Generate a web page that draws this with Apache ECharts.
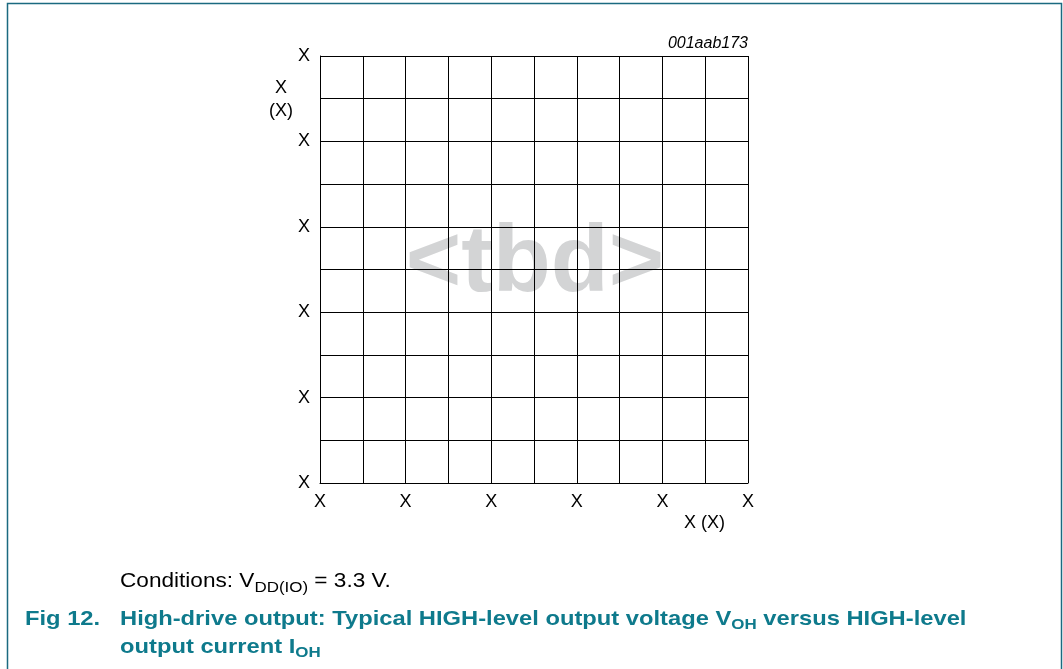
<!DOCTYPE html>
<html>
<head>
<meta charset="utf-8">
<script src="https://cdn.jsdelivr.net/npm/echarts@6/dist/echarts.min.js"></script>
<style>
  html, body { margin: 0; padding: 0; background: #fff; }
  #chart { width: 1063px; height: 669px; }
</style>
</head>
<body>
<div id="chart"></div>
<script>
// placeholder graph: no curve yet, only the grid
const xTicks = [0, 1, 2, 3, 4, 5, 6, 7, 8, 9, 10]
const yTicks = [0, 1, 2, 3, 4, 5, 6, 7, 8, 9, 10]
const xTickLabels = ['X', '', 'X', '', 'X', '', 'X', '', 'X', '', 'X']
const yTickLabels = ['X', '', 'X', '', 'X', '', 'X', '', 'X', '', 'X']
const curve = []

const font = 'Liberation Sans, Arial, sans-serif'
const teal = '#0e7a8c'

const chartDom = document.getElementById('chart')
const chart = echarts.init(chartDom, null, { renderer: 'canvas' })

const subStyle = (size, pt, color, weight) => ({
  fontSize: size, fontFamily: font, fontWeight: weight, fill: color,
  lineHeight: size, verticalAlign: 'middle', padding: [pt, 0, 0, 0]
})

const option = {
  animation: false,
  grid: { left: 320, top: 56, width: 428, height: 427, show: false },
  xAxis: {
    type: 'value',
    min: xTicks[0],
    max: xTicks[xTicks.length - 1],
    interval: 1,
    axisLine: { show: true, lineStyle: { color: '#000', width: 1 } },
    axisTick: { show: false },
    splitLine: { show: true, lineStyle: { color: '#000', width: 1 } },
    axisLabel: {
      margin: 10,
      color: '#000',
      fontFamily: font,
      fontSize: 18,
      formatter: v => xTickLabels[xTicks.indexOf(v)] || ''
    }
  },
  yAxis: {
    type: 'value',
    min: yTicks[0],
    max: yTicks[yTicks.length - 1],
    interval: 1,
    axisLine: { show: true, lineStyle: { color: '#000', width: 1 } },
    axisTick: { show: false },
    splitLine: { show: true, lineStyle: { color: '#000', width: 1 } },
    axisLabel: {
      margin: 10,
      color: '#000',
      fontFamily: font,
      fontSize: 18,
      formatter: v => yTickLabels[yTicks.indexOf(v)] || ''
    }
  },
  series: [
    { type: 'line', data: curve, showSymbol: false, lineStyle: { color: '#000' } }
  ],
  graphic: [
    // outer frame
    {
      type: 'polyline', silent: true,
      shape: { points: [[7.5, 669], [7.5, 3.5], [1061.5, 3.5], [1061.5, 669]] },
      style: { stroke: '#1b6a80', lineWidth: 1.5, fill: null }
    },
    // watermark, behind the grid lines
    {
      type: 'text', z: -1, silent: true,
      x: 535, y: 265,
      style: { text: '<tbd>', fill: '#d3d4d5', font: 'bold 95px ' + font, align: 'center', verticalAlign: 'middle' }
    },
    {
      type: 'text', silent: true,
      x: 748, y: 44,
      style: { text: '001aab173', fill: '#000', font: 'italic 16px ' + font, align: 'right', verticalAlign: 'middle' }
    },
    {
      type: 'text', silent: true,
      x: 281, y: 99.5,
      style: { text: 'X\n(X)', fill: '#000', font: '18px ' + font, align: 'center', verticalAlign: 'middle', lineHeight: 23 }
    },
    {
      type: 'text', silent: true,
      x: 684, y: 523,
      style: { text: 'X (X)', fill: '#000', font: '18px ' + font, verticalAlign: 'middle' }
    },
    {
      type: 'text', silent: true,
      x: 120, y: 581, scaleX: 1.13,
      style: {
        text: 'Conditions: V{sub|DD(IO)} = 3.3 V.',
        fill: '#000', font: '20px ' + font, verticalAlign: 'middle', lineHeight: 36,
        rich: { sub: subStyle(15, 14, '#000', 'normal') }
      }
    },
    {
      type: 'text', silent: true,
      x: 25, y: 619, scaleX: 1.13,
      style: { text: 'Fig 12.', fill: teal, font: 'bold 21px ' + font, verticalAlign: 'middle' }
    },
    {
      type: 'text', silent: true,
      x: 120, y: 619, scaleX: 1.13,
      style: {
        text: 'High-drive output: Typical HIGH-level output voltage V{sub|OH} versus HIGH-level',
        fill: teal, font: 'bold 21px ' + font, verticalAlign: 'middle', lineHeight: 36,
        rich: { sub: subStyle(15, 12, teal, 'bold') }
      }
    },
    {
      type: 'text', silent: true,
      x: 120, y: 647, scaleX: 1.13,
      style: {
        text: 'output current I{sub|OH}',
        fill: teal, font: 'bold 21px ' + font, verticalAlign: 'middle', lineHeight: 36,
        rich: { sub: subStyle(15, 12, teal, 'bold') }
      }
    }
  ]
}

option && chart.setOption(option)
</script>
</body>
</html>
